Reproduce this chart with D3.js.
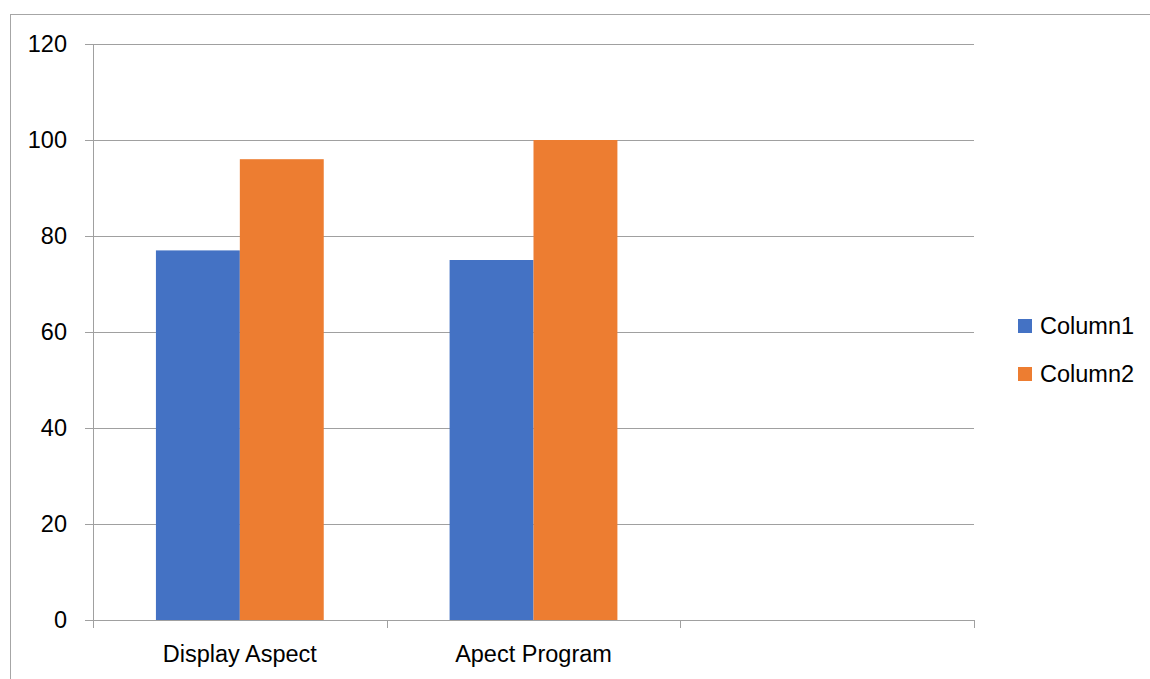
<!DOCTYPE html>
<html>
<head>
<meta charset="utf-8">
<script src="https://cdn.jsdelivr.net/npm/d3@7"></script>
<style>
  html, body { margin: 0; padding: 0; background: #fff; }
  svg { display: block; }
  text { font-family: "Liberation Sans", Arial, sans-serif; fill: #000; }
</style>
</head>
<body>
<svg id="chart" width="1150" height="679"></svg>
<script>
// Chart data
const categories = ["Display Aspect", "Apect Program", ""];
const seriesNames = ["Column1", "Column2"];
const column1 = [77, 75, null];
const column2 = [96, 100, null];
const yTicks = [0, 20, 40, 60, 80, 100, 120];
const colors = ["#4472c4", "#ed7d31"];

const svg = d3.select("#chart");
const W = 1150, H = 679;
const fontSize = "23.5px";

// Outer chart frame
svg.append("rect")
  .attr("x", 10.5).attr("y", 14.5)
  .attr("width", W + 20).attr("height", H + 20)
  .attr("fill", "none").attr("stroke", "#a6a6a6").attr("stroke-width", 1);

const plot = { left: 93, right: 974, top: 44, bottom: 620 };

const x0 = d3.scaleBand().domain(d3.range(categories.length))
  .range([plot.left, plot.right]).paddingInner(0).paddingOuter(0);

// gap width 150% of a bar
const barW = x0.bandwidth() / (seriesNames.length + 1.5);
const groupW = barW * seriesNames.length;
const x1 = d3.scaleBand().domain(seriesNames)
  .range([(x0.bandwidth() - groupW) / 2, (x0.bandwidth() + groupW) / 2]);

const y = d3.scaleLinear().domain([0, 120]).range([plot.bottom, plot.top]);

const gridColor = "#a0a0a0";

// Horizontal gridlines (with small tick stubs to the left of the axis)
const yAxis = d3.axisLeft(y).tickValues(yTicks)
  .tickSize(-(plot.right - plot.left)).tickSizeOuter(0).tickPadding(0)
  .tickFormat(() => "");
const gy = svg.append("g").attr("transform", `translate(${plot.left},0)`).call(yAxis);
gy.select(".domain").attr("stroke", gridColor);
gy.selectAll(".tick line").attr("stroke", gridColor);
gy.selectAll(".tick").append("line")
  .attr("x1", -8).attr("x2", 0).attr("stroke", gridColor);

// Y tick labels
svg.append("g").selectAll("text").data(yTicks).join("text")
  .attr("x", 67).attr("y", d => y(d))
  .attr("dy", "0.36em")
  .attr("text-anchor", "end")
  .style("font-size", fontSize)
  .text(d => d);

// Bars
const rows = categories.map((c, i) => ({ i, vals: [column1[i], column2[i]] }));
const groups = svg.append("g").selectAll("g").data(rows).join("g")
  .attr("transform", d => `translate(${x0(d.i)},0)`);
groups.selectAll("rect")
  .data(d => d.vals.map((v, k) => ({ v, k })).filter(e => e.v != null))
  .join("rect")
  .attr("x", e => x1(seriesNames[e.k]))
  .attr("width", x1.bandwidth())
  .attr("y", e => y(e.v))
  .attr("height", e => y(0) - y(e.v))
  .attr("fill", e => colors[e.k]);

// X axis with category separators
const xTickPos = d3.range(categories.length + 1).map(i => plot.left + i * x0.bandwidth());
const gx = svg.append("g");
gx.append("line")
  .attr("x1", plot.left).attr("x2", plot.right)
  .attr("y1", plot.bottom + 0.5).attr("y2", plot.bottom + 0.5)
  .attr("stroke", gridColor);
gx.selectAll("line.sep").data(xTickPos).join("line")
  .attr("class", "sep")
  .attr("x1", d => Math.round(d) + 0.5).attr("x2", d => Math.round(d) + 0.5)
  .attr("y1", plot.bottom).attr("y2", plot.bottom + 8)
  .attr("stroke", gridColor);
gx.selectAll("text").data(categories.map((c, i) => ({ c, i }))).join("text")
  .attr("x", d => x0(d.i) + x0.bandwidth() / 2)
  .attr("y", 662)
  .attr("text-anchor", "middle")
  .style("font-size", fontSize)
  .text(d => d.c);

// Legend
const legend = svg.append("g").selectAll("g").data(seriesNames).join("g")
  .attr("transform", (d, i) => `translate(1018,${319 + i * 48})`);
legend.append("rect")
  .attr("width", 14).attr("height", 14)
  .attr("fill", (d, i) => colors[i]);
legend.append("text")
  .attr("x", 22).attr("y", 15)
  .style("font-size", fontSize)
  .text(d => d);
</script>
</body>
</html>
